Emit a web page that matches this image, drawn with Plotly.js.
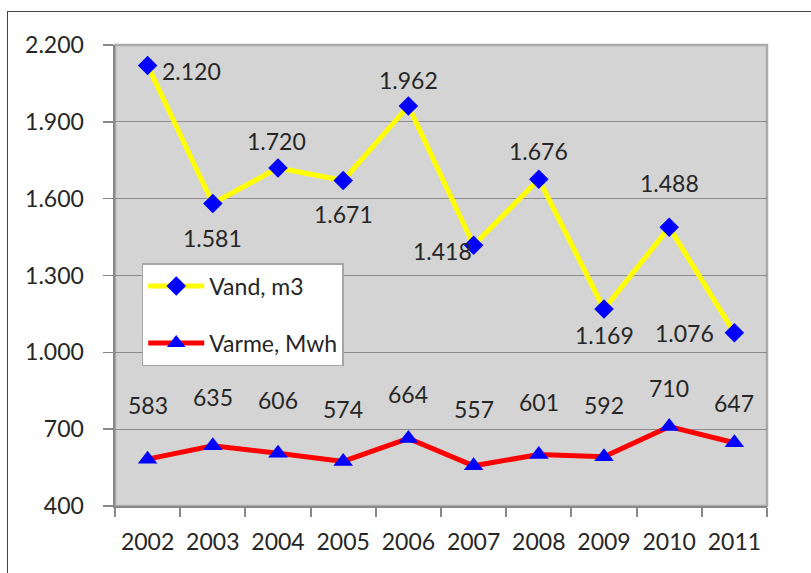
<!DOCTYPE html>
<html>
<head>
<meta charset="utf-8">
<script src="https://cdn.plot.ly/plotly-3.0.1.min.js"></script>
<style>
html,body{margin:0;padding:0;background:#fff;}
#wrap{position:relative;width:811px;height:573px;overflow:hidden;}
#chart{width:811px;height:573px;}
#frame{position:absolute;left:7px;top:11px;width:900px;height:700px;border-left:1.5px solid #444;border-top:1.5px solid #444;pointer-events:none;}
</style>
</head>
<body>
<div id="wrap"><div id="chart"></div><div id="frame"></div></div>
<script>
// Data
const years = ['2002','2003','2004','2005','2006','2007','2008','2009','2010','2011'];
const vand = [2120,1581,1720,1671,1962,1418,1676,1169,1488,1076];
const varme = [583,635,606,574,664,557,601,592,710,647];
const vandName = 'Vand, m3';
const varmeName = 'Varme, Mwh';

// data-label offsets in px (style only)
const vandLabelDx = [44, 0, -2, 0, 0, -31, 0, 0, 0, -50];
const vandLabelDy = [-6, -34, 27, -34, 26, -6, 28, -26, 44, 0];
const varmeLabelDy = [54, 49, 53, 52, 44, 57, 53, 52, 39, 40];

function fmt(v){ return String(v).replace(/\B(?=(\d{3})+(?!\d))/g,'.'); }

const FONT = 'Lato, "Open Sans", sans-serif';
const TXT = '#262626';
const FS = 23;

const traces = [
  {x: years, y: vand, name: vandName, type:'scatter', mode:'lines+markers',
   line:{color:'#ffff00', width:5}, marker:{symbol:'diamond', size:15, color:'#0000ff'},
   legendgroup:'a'},
  {x: years, y: varme, name: varmeName, type:'scatter', mode:'lines+markers',
   line:{color:'#ff0000', width:5}, marker:{symbol:'triangle-up', size:17, color:'#0000ff'},
   legendgroup:'b'}
];

const annotations = [];
vand.forEach((v,i)=>{
  annotations.push({x: i, y: v, xref:'x', yref:'y', text: fmt(v), showarrow:false,
    xshift: vandLabelDx[i], yshift: vandLabelDy[i],
    font:{family:FONT, size:FS, color:TXT}});
});
varme.forEach((v,i)=>{
  annotations.push({x: i, y: v, xref:'x', yref:'y', text: fmt(v), showarrow:false,
    yshift: varmeLabelDy[i], font:{family:FONT, size:FS, color:TXT}});
});

const layout = {
  width: 811, height: 573,
  margin:{l:115, r:44, t:45, b:67, pad:0},
  paper_bgcolor:'#ffffff',
  plot_bgcolor:'#d4d4d4',
  separators: ',.',
  font:{family:FONT, size:FS, color:TXT},
  showlegend:true,
  legend:{x:0.041, y:0.527, xanchor:'left', yanchor:'top', bgcolor:'#ffffff',
          bordercolor:'#a6a6a6', borderwidth:1.5, font:{family:FONT, size:FS, color:TXT},
          traceorder:'grouped', tracegroupgap:24, itemwidth:56},
  xaxis:{type:'category', range:[-0.5, years.length-0.5], tickson:'boundaries', ticks:'outside', ticklen:9, tickcolor:'#888',
         tickwidth:2, showline:true, linecolor:'#888', linewidth:2, showgrid:false,
         ticklabelstandoff:14, tickangle:0, tickfont:{family:FONT, size:FS, color:TXT}, fixedrange:true},
  yaxis:{range:[400,2200], tick0:400, dtick:300, tickformat:',d', ticks:'outside', ticklen:10,
         tickcolor:'#888', tickwidth:1.5, showline:true, linecolor:'#888', linewidth:2.5,
         gridcolor:'#8c8c8c', gridwidth:1.2, zeroline:false, ticklabelstandoff:14,
         tickfont:{family:FONT, size:FS, color:TXT}, fixedrange:true},
  shapes:[{type:'rect', xref:'paper', yref:'paper', x0:0, x1:1, y0:0, y1:1,
           line:{color:'#ababab', width:2.5}, layer:'below'}],
  annotations: annotations
};

Plotly.newPlot('chart', traces, layout, {displayModeBar:false, staticPlot:true});
</script>
</body>
</html>
